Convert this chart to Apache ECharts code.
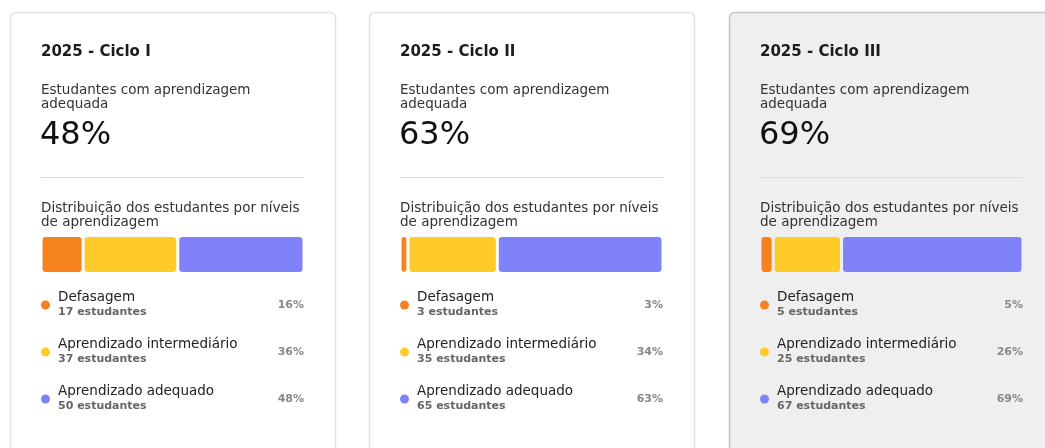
<!DOCTYPE html>
<html>
<head>
<meta charset="utf-8">
<script src="https://cdn.jsdelivr.net/npm/echarts@6/dist/echarts.min.js"></script>
<style>
  html, body { margin: 0; padding: 0; background: #fff; }
  #chart { width: 1045px; height: 448px; }
</style>
</head>
<body>
<div id="chart"></div>
<script>
const ciclos = ['2025 - Ciclo I', '2025 - Ciclo II', '2025 - Ciclo III']
const niveis = ['Defasagem', 'Aprendizado intermediário', 'Aprendizado adequado']
const cores = ['#f5821f', '#fecb2b', '#7f82f8']
const adequada = [48, 63, 69]
const estudantes = [[17, 37, 50], [3, 35, 65], [5, 25, 67]]
const percentuais = [[16, 36, 48], [3, 34, 63], [5, 26, 69]]

const chart = echarts.init(document.getElementById('chart'))
const FONT = 'DejaVu Sans'

const cardX = [10, 369, 729]
const cardBg = ['#ffffff', '#ffffff', '#efefef']
const cardBorder = ['#e2e2e2', '#e2e2e2', '#c4c4c4']
const padL = 31
const innerW = 263

const grids = []
const xAxes = []
const yAxes = []
const series = []
const graphic = []

const txt = (x, y, text, size, weight, color, align) => ({
  type: 'text',
  x: x, y: y,
  style: {
    text: text, fontSize: size, fontWeight: weight, fill: color,
    fontFamily: FONT, textAlign: align || 'left', textVerticalAlign: 'middle'
  }
})

ciclos.forEach((ciclo, i) => {
  const cx = cardX[i]
  const lx = cx + padL
  const rx = lx + innerW

  graphic.push({
    type: 'rect', z: -10,
    shape: { x: cx + 0.5, y: 12.5, width: 325, height: 460, r: 5 },
    style: { fill: cardBg[i], stroke: cardBorder[i], lineWidth: 1.5 }
  })
  graphic.push(txt(lx, 52, ciclo, 15, 'bold', '#1c1c1c'))
  graphic.push(txt(lx, 90, 'Estudantes com aprendizagem', 13.5, 'normal', '#333'))
  graphic.push(txt(lx, 104, 'adequada', 13.5, 'normal', '#333'))
  graphic.push(txt(lx - 1, 136, adequada[i] + '%', 32, 'normal', '#111'))
  graphic.push({
    type: 'line',
    shape: { x1: lx, y1: 177.5, x2: rx, y2: 177.5 },
    style: { stroke: '#dcdcdc', lineWidth: 1 }
  })
  graphic.push(txt(lx, 208, 'Distribuição dos estudantes por níveis', 13.5, 'normal', '#333'))
  graphic.push(txt(lx, 222, 'de aprendizagem', 13.5, 'normal', '#333'))

  niveis.forEach((nivel, k) => {
    const y0 = 297 + k * 47
    graphic.push({
      type: 'circle',
      shape: { cx: lx + 4.5, cy: y0 + 8, r: 4.5 },
      style: { fill: cores[k] }
    })
    graphic.push(txt(lx + 17, y0, nivel, 13.5, 'normal', '#222'))
    graphic.push(txt(lx + 17, y0 + 15, estudantes[i][k] + ' estudantes', 11, 'bold', '#666'))
    graphic.push(txt(rx, y0 + 8, percentuais[i][k] + '%', 11, 'bold', '#888', 'right'))
  })

  grids.push({ left: lx, top: 236, width: innerW, height: 37 })
  xAxes.push({ gridIndex: i, type: 'value', min: 0, max: 100, show: false })
  yAxes.push({ gridIndex: i, type: 'category', data: [ciclo], show: false })

  niveis.forEach((nivel, k) => {
    series.push({
      type: 'bar',
      name: nivel,
      xAxisIndex: i,
      yAxisIndex: i,
      stack: 'c' + i,
      barWidth: 38,
      silent: true,
      itemStyle: {
        color: cores[k],
        borderColor: cardBg[i],
        borderWidth: 1.5,
        borderRadius: 4
      },
      data: [percentuais[i][k]]
    })
  })
})

chart.setOption({
  animation: false,
  grid: grids,
  xAxis: xAxes,
  yAxis: yAxes,
  series: series,
  graphic: graphic
})
</script>
</body>
</html>
